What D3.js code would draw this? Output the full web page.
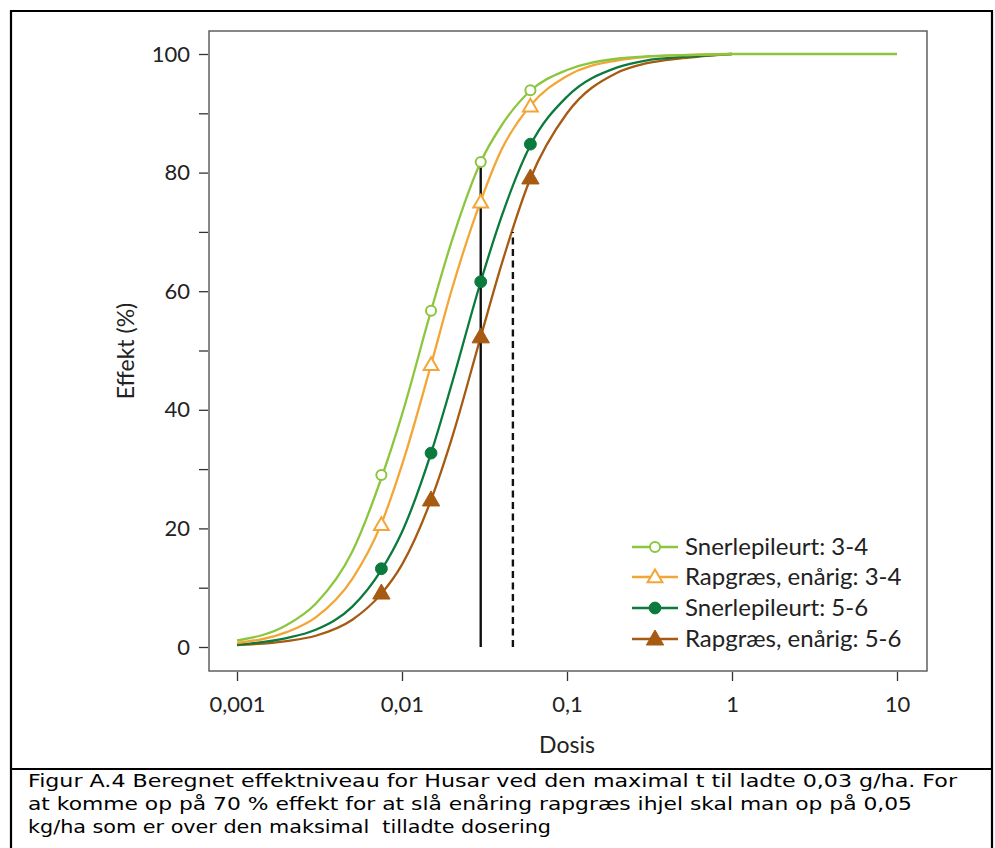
<!DOCTYPE html>
<html><head><meta charset="utf-8">
<script src="https://cdn.jsdelivr.net/npm/d3@7"></script>
<style>body{margin:0;background:#fff}svg{display:block}</style>
</head><body>
<svg id="c" width="995" height="848"></svg>
<script>
// ---- data ----
const seriesNames = ["Snerlepileurt: 3-4", "Rapgræs, enårig: 3-4", "Snerlepileurt: 5-6", "Rapgræs, enårig: 5-6"];
const curveDoses = [0.001,0.002,0.003,0.005,0.0075,0.01,0.015,0.02,0.03,0.04,0.06,0.1,0.2,0.3,0.5,1];
const curveDosesLong = [0.001,0.002,0.003,0.005,0.0075,0.01,0.015,0.02,0.03,0.04,0.06,0.1,0.2,0.3,0.5,1,2,5,10];
const snerle34Curve = [1.1,3.7,7.3,16.1,28.5,39.2,56.7,68.4,81.8,87.9,93.8,97.3,99.2,99.6,99.8,100,100,100,100];
const rap34Curve    = [0.7,2.5,5.0,11.5,20.8,30.7,47.6,60.2,75.2,83.8,91.3,96.3,98.9,99.5,99.8,100];
const snerle56Curve = [0.4,1.5,2.9,6.8,13.0,19.4,32.7,44.3,61.6,72.5,84.6,92.8,97.7,98.9,99.5,100];
const rap56Curve    = [0.3,1.0,1.9,4.6,9.0,13.9,24.8,35.1,52.3,64.4,79.0,90.0,96.8,98.4,99.3,100];
const markerDoses = [0.0075, 0.015, 0.03, 0.06];
const snerle34Pts = [29.0, 56.7, 81.8, 93.9];
const rap34Pts    = [20.6, 47.6, 75.0, 91.2];
const snerle56Pts = [13.2, 32.7, 61.6, 84.8];
const rap56Pts    = [9.1, 24.8, 52.3, 79.1];
const xTicks = [0.001, 0.01, 0.1, 1, 10];
const xTickLabels = ["0,001", "0,01", "0,1", "1", "10"];
const yTicks = [0,10,20,30,40,50,60,70,80,90,100];
const yTickLabels = ["0","","20","","40","","60","","80","","100"];
const refSolid = {dose: 0.03, top: 82};
const refDashed = {dose: 0.047, top: 70};
const captionLines = [
  "Figur A.4 Beregnet effektniveau for Husar ved den maximal t til ladte 0,03 g/ha. For",
  "at komme op på 70 % effekt for at slå enåring rapgræs ihjel skal man op på 0,05",
  "kg/ha som er over den maksimal  tilladte dosering"
];

// ---- styling ----
const colors = ["#8cc63f", "#f3a536", "#0b7a3d", "#a65a12"];
const font = "Lato, 'Open Sans', sans-serif";
const svg = d3.select("#c");

const x = d3.scaleLog().domain([0.001, 10]).range([237, 897]);
const y = d3.scaleLinear().domain([0, 100]).range([647, 54]);

// outer frame
svg.append("line").attr("x1",11).attr("x2",993).attr("y1",11).attr("y2",11).attr("stroke","#000").attr("stroke-width",2.2);
svg.append("line").attr("x1",11).attr("x2",11).attr("y1",10).attr("y2",848).attr("stroke","#000").attr("stroke-width",2.2);
svg.append("line").attr("x1",992).attr("x2",992).attr("y1",10).attr("y2",848).attr("stroke","#000").attr("stroke-width",2.2);
svg.append("line").attr("x1",11).attr("x2",993).attr("y1",769).attr("y2",769).attr("stroke","#000").attr("stroke-width",2.2);

// plot box
svg.append("rect").attr("x",209).attr("y",31).attr("width",718).attr("height",640)
  .attr("fill","none").attr("stroke","#555").attr("stroke-width",1.4);

// axes
const yAxis = d3.axisLeft(y).tickValues(yTicks).tickSize(9).tickPadding(9)
  .tickFormat((d,i)=>yTickLabels[i]);
const gy = svg.append("g").attr("transform","translate(208,0)").call(yAxis);
gy.select(".domain").remove();
gy.selectAll(".tick line").attr("stroke","#333").attr("stroke-width",1.3);
gy.selectAll("text").attr("font-family",font).attr("font-size",22).attr("fill","#222");

const xAxis = d3.axisBottom(x).tickValues(xTicks).tickSize(9).tickPadding(15)
  .tickFormat((d,i)=>xTickLabels[i]);
const gx = svg.append("g").attr("transform","translate(0,672)").call(xAxis);
gx.select(".domain").remove();
gx.selectAll(".tick line").attr("stroke","#333").attr("stroke-width",1.3);
gx.selectAll("text").attr("font-family",font).attr("font-size",22).attr("fill","#222");

// axis titles
svg.append("text").attr("x",567).attr("y",753).attr("text-anchor","middle")
  .attr("font-family",font).attr("font-size",23).attr("fill","#222").text("Dosis");
svg.append("text").attr("transform","translate(134,351) rotate(-90)").attr("text-anchor","middle")
  .attr("font-family",font).attr("font-size",23).attr("fill","#222").text("Effekt (%)");

// curves
const line = d3.line().x(d=>x(d[0])).y(d=>y(d[1])).curve(d3.curveMonotoneX);
const curves = [
  {doses: curveDosesLong, vals: snerle34Curve},
  {doses: curveDoses, vals: rap34Curve},
  {doses: curveDoses, vals: snerle56Curve},
  {doses: curveDoses, vals: rap56Curve}
];
[3,2,1,0].forEach(i=>{
  const c = curves[i];
  svg.append("path").datum(c.doses.map((d,j)=>[d,c.vals[j]]))
    .attr("d",line).attr("fill","none").attr("stroke",colors[i]).attr("stroke-width",2.3);
});

// reference lines
svg.append("line").attr("x1",x(refSolid.dose)).attr("x2",x(refSolid.dose))
  .attr("y1",y(0)).attr("y2",y(refSolid.top)).attr("stroke","#111").attr("stroke-width",2.4);
svg.append("line").attr("x1",x(refDashed.dose)).attr("x2",x(refDashed.dose))
  .attr("y1",y(0)).attr("y2",y(refDashed.top)).attr("stroke","#111").attr("stroke-width",2.4)
  .attr("stroke-dasharray","7,4.5");

// markers
const ptsAll = [snerle34Pts, rap34Pts, snerle56Pts, rap56Pts];
const symTypes = [d3.symbolCircle, d3.symbolTriangle, d3.symbolCircle, d3.symbolTriangle];
const filled = [false,false,true,true];
const symSize = [80, 95, 110, 130];
function drawMarker(g, i, cx, cy){
  g.append("path").attr("d", d3.symbol().type(symTypes[i]).size(symSize[i])())
    .attr("transform",`translate(${cx},${cy + (symTypes[i]===d3.symbolTriangle?1:0)})`)
    .attr("fill", filled[i] ? colors[i] : "#fff")
    .attr("stroke", colors[i]).attr("stroke-width", filled[i]?1:2);
}
ptsAll.forEach((pts,i)=>{
  pts.forEach((v,j)=>drawMarker(svg, i, x(markerDoses[j]), y(v)));
});

// legend
const legY = [547, 577, 608, 639];
seriesNames.forEach((name,i)=>{
  svg.append("line").attr("x1",632).attr("x2",678).attr("y1",legY[i]).attr("y2",legY[i])
    .attr("stroke",colors[i]).attr("stroke-width",2.3);
  drawMarker(svg, i, 655, legY[i]);
  svg.append("text").attr("x",685).attr("y",legY[i]).attr("dy","0.33em")
    .attr("font-family",font).attr("font-size",24).attr("fill","#222").text(name);
});

// caption
const capWidths = [929, 884, 523];
captionLines.forEach((t,i)=>{
  svg.append("text").attr("x",28).attr("y",787 + i*23)
    .attr("font-family","'DejaVu Sans', Verdana, sans-serif").attr("font-size",17.5)
    .attr("fill","#000").attr("textLength",capWidths[i]).attr("lengthAdjust","spacingAndGlyphs")
    .attr("xml:space","preserve").style("white-space","pre").text(t);
});
</script>
</body></html>
